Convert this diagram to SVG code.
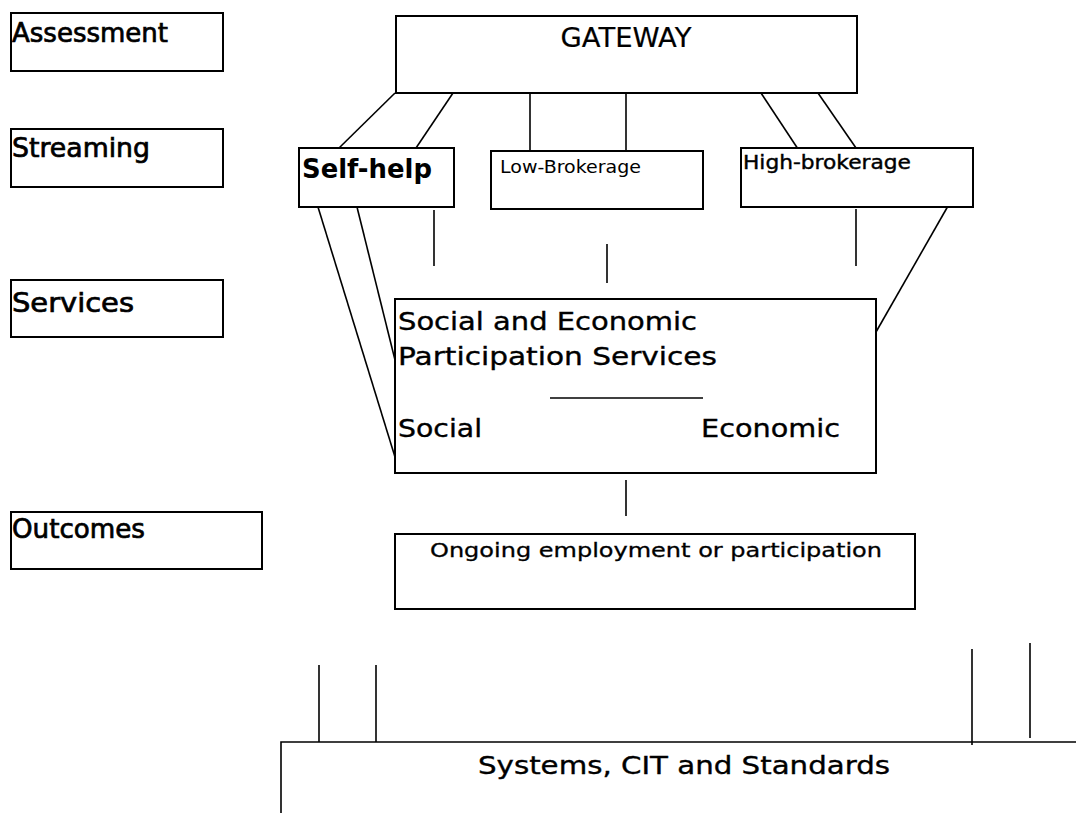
<svg xmlns="http://www.w3.org/2000/svg" width="1076" height="813" viewBox="0 0 1076 813">
  <style>
    .box { fill: #fff; stroke: #000; stroke-width: 2; }
    .link { stroke: #000; stroke-width: 1.6; fill: none; }
    text { font-family: "DejaVu Sans", "Liberation Sans", sans-serif; fill: #000; }
    .lbl { font-size: 26px; stroke: #000; stroke-width: 0.7; }
    .svc { font-size: 24px; stroke: #000; stroke-width: 0.35; }
  </style>
  <rect width="1076" height="813" fill="#fff"/>

  <!-- stage labels down the left side -->
  <g id="assessment">
    <rect class="box" x="11" y="13" width="212" height="58"/>
    <text class="lbl" x="12" y="42" textLength="156" lengthAdjust="spacingAndGlyphs">Assessment</text>
  </g>
  <g id="streaming">
    <rect class="box" x="11" y="129" width="212" height="58"/>
    <text class="lbl" x="12" y="157" textLength="138" lengthAdjust="spacingAndGlyphs">Streaming</text>
  </g>
  <g id="services">
    <rect class="box" x="11" y="280" width="212" height="57"/>
    <text class="lbl" x="12" y="312" font-size="28" textLength="122" lengthAdjust="spacingAndGlyphs">Services</text>
  </g>
  <g id="outcomes">
    <rect class="box" x="11" y="512" width="251" height="57"/>
    <text class="lbl" x="12" y="538" textLength="133" lengthAdjust="spacingAndGlyphs">Outcomes</text>
  </g>

  <!-- connectors -->
  <g id="connectors">
    <line class="link" x1="395" y1="93" x2="338" y2="149"/>
    <line class="link" x1="453" y1="93" x2="416" y2="148"/>
    <line class="link" x1="530" y1="93" x2="530" y2="151"/>
    <line class="link" x1="626" y1="93" x2="626" y2="151"/>
    <line class="link" x1="761" y1="93" x2="798" y2="149"/>
    <line class="link" x1="818" y1="93" x2="856" y2="148"/>

    <line class="link" x1="318" y1="207" x2="395" y2="457"/>
    <line class="link" x1="357" y1="207" x2="395" y2="360"/>
    <line class="link" x1="434" y1="210" x2="434" y2="266"/>
    <line class="link" x1="607" y1="244" x2="607" y2="283"/>
    <line class="link" x1="856" y1="209" x2="856" y2="266"/>
    <line class="link" x1="952" y1="199" x2="876" y2="332"/>

    <line class="link" x1="626" y1="480" x2="626" y2="516"/>

    <line class="link" x1="319" y1="665" x2="319" y2="742"/>
    <line class="link" x1="376" y1="665" x2="376" y2="742"/>
    <line class="link" x1="972" y1="649" x2="972" y2="745"/>
    <line class="link" x1="1030" y1="643" x2="1030" y2="738"/>
  </g>

  <g id="gateway">
    <rect class="box" x="396" y="16" width="461" height="77"/>
    <text x="626" y="47" font-size="26" stroke="#000" stroke-width="0.2" text-anchor="middle" textLength="131" lengthAdjust="spacingAndGlyphs">GATEWAY</text>
  </g>

  <g id="self-help">
    <rect class="box" x="299" y="148" width="155" height="59"/>
    <text x="302" y="178" font-size="26" font-weight="bold" textLength="130" lengthAdjust="spacingAndGlyphs">Self-help</text>
  </g>

  <g id="low-brokerage">
    <rect class="box" x="491" y="151" width="212" height="58"/>
    <text x="500" y="173" font-size="17" textLength="141" lengthAdjust="spacingAndGlyphs">Low-Brokerage</text>
  </g>

  <g id="high-brokerage">
    <rect class="box" x="741" y="148" width="232" height="59"/>
    <text x="743" y="169" font-size="19" stroke="#000" stroke-width="0.4" textLength="168" lengthAdjust="spacingAndGlyphs">High-brokerage</text>
  </g>

  <g id="participation-services">
    <rect class="box" x="395" y="299" width="481" height="174"/>
    <text class="svc" x="398" y="330" textLength="299" lengthAdjust="spacingAndGlyphs">Social and Economic</text>
    <text class="svc" x="398" y="365" textLength="319" lengthAdjust="spacingAndGlyphs">Participation Services</text>
    <line class="link" x1="550" y1="398" x2="703" y2="398"/>
    <text class="svc" x="398" y="437" textLength="84" lengthAdjust="spacingAndGlyphs">Social</text>
    <text class="svc" x="701" y="437" textLength="139" lengthAdjust="spacingAndGlyphs">Economic</text>
  </g>

  <g id="ongoing">
    <rect class="box" x="395" y="534" width="520" height="75"/>
    <text x="430" y="557" font-size="19" stroke="#000" stroke-width="0.3" textLength="452" lengthAdjust="spacingAndGlyphs">Ongoing employment or participation</text>
  </g>

  <g id="systems">
    <polyline class="link" points="281,813 281,742 1076,742"/>
    <text x="478" y="774" font-size="24" stroke="#000" stroke-width="0.35" textLength="412" lengthAdjust="spacingAndGlyphs">Systems, CIT and Standards</text>
  </g>
</svg>
